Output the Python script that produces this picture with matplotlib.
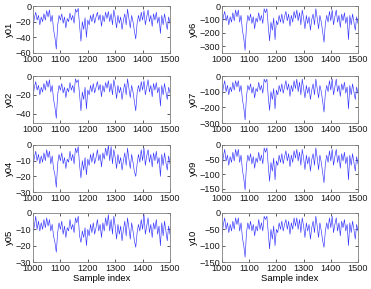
import numpy as np
import matplotlib
matplotlib.use("Agg")
import matplotlib.pyplot as plt

plt.rcParams['font.family'] = ['Liberation Sans', 'DejaVu Sans']

x_start, x_end = 1000, 1500
xticks = [1000, 1100, 1200, 1300, 1400, 1500]

y01 = [-28,-15,-8,-18,-12,-24,-14,-20,-10,-18,
       -6,-14,-5,-20,-12,-30,-40,-55,-25,-12,
       -18,-10,-22,-14,-28,-16,-20,-9,-18,-12,
       -22,-4,-8,-3,-25,-45,-20,-30,-15,-40,
       -18,-24,-12,-20,-10,-22,-14,-8,-18,-11,
       -26,-12,-20,-8,-16,-7,-20,-10,-24,-5,
       -15,-28,-12,-22,-14,-30,-18,-10,-24,-4,
       -16,-28,-12,-20,-32,-42,-22,-12,-20,-8,
       -18,-6,-24,-14,-5,-20,-12,-26,-10,-18,
       -8,-22,-14,-35,-12,-24,-10,-20,-30,-14,
       -22]
y02 = [-22,-12,-6,-15,-10,-20,-12,-17,-8,-15,
       -5,-12,-4,-17,-10,-25,-33,-45,-20,-10,
       -15,-8,-18,-12,-23,-13,-17,-7,-15,-10,
       -18,-3,-7,-4,-20,-37,-17,-25,-12,-35,
       -15,-20,-10,-17,-8,-18,-12,-6,-15,-9,
       -22,-10,-17,-7,-13,-5,-17,-8,-20,-4,
       -12,-24,-10,-18,-12,-25,-15,-8,-20,-3,
       -13,-23,-10,-17,-27,-37,-18,-10,-17,-6,
       -15,-5,-20,-12,-4,-17,-10,-22,-8,-15,
       -7,-18,-12,-32,-10,-20,-8,-17,-25,-12,
       -18]
y04 = [-14,-8,-4,-10,-6,-12,-7,-11,-5,-10,
       -3,-8,-4,-12,-7,-15,-19,-27,-12,-6,
       -10,-5,-12,-8,-15,-9,-11,-4,-10,-6,
       -12,-2,-5,-1,-13,-21,-10,-16,-8,-19,
       -9,-13,-6,-11,-5,-12,-8,-3,-10,-6,
       -14,-5,-9,-2,-7,0,-10,-1,-12,-3,
       -8,-15,-6,-12,-8,-16,-10,-5,-13,-2,
       -9,-15,-6,-11,-17,-20,-12,-6,-11,-3,
       -10,-2,-13,-7,-3,-11,-6,-14,-5,-10,
       -4,-12,-8,-20,-6,-13,-5,-11,-16,-7,
       -12]
y05 = [-12,-8,-2,-10,-5,-11,-6,-10,-4,-9,
       -3,-8,-4,-11,-7,-14,-18,-24,-12,-6,
       -10,-5,-13,-8,-15,-9,-11,-4,-10,-7,
       -12,-3,-6,-2,-14,-18,-11,-15,-9,-20,
       -10,-14,-7,-12,-6,-13,-9,-4,-11,-7,
       -15,-6,-11,-3,-8,-1,-11,-4,-13,-2,
       -8,-16,-7,-13,-8,-17,-10,-5,-14,-3,
       -9,-16,-6,-11,-17,-21,-12,-7,-11,-4,
       -10,-1,-13,-8,-3,-12,-7,-15,-6,-10,
       -4,-13,-8,-20,-6,-14,-5,-11,-17,-8,
       -13]
y06 = [-160,-80,-40,-110,-70,-140,-80,-120,-50,-110,
       -30,-80,-30,-120,-70,-180,-240,-330,-150,-70,
       -110,-60,-130,-80,-170,-90,-120,-50,-110,-70,
       -130,-20,-50,-20,-150,-260,-120,-180,-90,-250,
       -110,-140,-70,-120,-60,-130,-80,-40,-110,-60,
       -150,-70,-120,-40,-90,-30,-110,-50,-140,-30,
       -90,-170,-70,-130,-80,-180,-100,-60,-140,-20,
       -90,-170,-70,-120,-190,-270,-130,-70,-120,-40,
       -110,-30,-140,-80,-30,-120,-70,-160,-60,-110,
       -50,-130,-80,-250,-70,-140,-60,-120,-180,-80,
       -130]
y07 = [-140,-70,-30,-100,-60,-120,-70,-100,-40,-90,
       -30,-70,-30,-100,-60,-150,-200,-280,-130,-60,
       -90,-50,-110,-70,-140,-80,-100,-40,-90,-60,
       -110,-20,-40,-20,-130,-220,-100,-150,-80,-210,
       -90,-120,-60,-100,-50,-110,-70,-30,-90,-50,
       -130,-60,-100,-30,-80,-20,-100,-40,-120,-20,
       -80,-140,-60,-110,-70,-150,-90,-50,-120,-20,
       -80,-140,-60,-100,-160,-230,-110,-60,-100,-30,
       -90,-20,-120,-70,-20,-100,-60,-130,-50,-90,
       -40,-110,-70,-210,-60,-120,-50,-100,-150,-70,
       -110]
y09 = [-80,-40,-15,-55,-35,-70,-40,-60,-25,-55,
       -15,-40,-15,-60,-35,-85,-115,-155,-70,-35,
       -55,-30,-65,-40,-80,-45,-60,-25,-55,-35,
       -65,-10,-25,-10,-70,-125,-60,-90,-45,-120,
       -55,-70,-35,-60,-30,-65,-40,-20,-55,-30,
       -75,-35,-60,-20,-45,-15,-55,-25,-70,-15,
       -45,-85,-35,-65,-40,-90,-50,-30,-70,-10,
       -45,-85,-35,-60,-95,-130,-65,-35,-60,-20,
       -55,-15,-70,-40,-15,-60,-35,-80,-30,-55,
       -25,-65,-40,-120,-35,-70,-30,-60,-90,-40,
       -65]
y10 = [-70,-35,-15,-50,-30,-60,-35,-55,-25,-50,
       -15,-35,-15,-55,-30,-75,-100,-135,-60,-30,
       -50,-25,-55,-35,-70,-40,-55,-20,-50,-30,
       -55,-10,-20,-10,-60,-110,-50,-80,-40,-100,
       -50,-60,-30,-50,-25,-55,-35,-20,-50,-25,
       -65,-30,-50,-15,-40,-15,-50,-20,-60,-15,
       -40,-75,-30,-55,-35,-80,-45,-25,-60,-10,
       -40,-75,-30,-55,-85,-105,-55,-30,-50,-15,
       -45,-10,-60,-35,-15,-55,-30,-70,-25,-45,
       -20,-55,-35,-100,-30,-60,-25,-50,-80,-35,
       -55]

panels = [
    ("y01", y01, (-60, 0), [0, -20, -40, -60]),
    ("y02", y02, (-50, 0), [0, -20, -40]),
    ("y04", y04, (-30, 0), [0, -10, -20, -30]),
    ("y05", y05, (-30, 0), [0, -10, -20, -30]),
    ("y06", y06, (-350, 0), [0, -100, -200, -300]),
    ("y07", y07, (-300, 0), [0, -100, -200, -300]),
    ("y09", y09, (-162, 0), [0, -50, -100, -150]),
    ("y10", y10, (-150, 0), [0, -50, -100, -150]),
]

W, H = 371, 289
fig = plt.figure(figsize=(W / 100, H / 100), dpi=100)
lefts = [33, 222]
widths = [137, 136]
rows = [(6, 53), (76, 123), (145, 192), (213, 262)]

for k, (name, vals, ylim, yt) in enumerate(panels):
    col = k // 4
    row = k % 4
    top, bot = rows[row]
    ax = fig.add_axes([lefts[col] / W, 1 - bot / H, widths[col] / W, (bot - top) / H])
    xs = np.linspace(x_start, x_end, len(vals))
    ax.plot(xs, vals, color=(0.2, 0.2, 1.0), lw=0.45)
    ax.set_xlim(x_start, x_end)
    ax.set_ylim(*ylim)
    ax.set_xticks(xticks)
    ax.set_yticks(yt)
    ax.tick_params(direction='in', length=2, width=0.5, labelsize=6.6, pad=1.2,
                   top=True, right=True, colors='0.1')
    for s in ax.spines.values():
        s.set_linewidth(0.6)
        s.set_color('0.5')
    ax.set_ylabel(name, fontsize=6.8, labelpad=1.5)
    if row == 3:
        ax.set_xlabel("Sample index", fontsize=6.8, labelpad=1.2)

fig.savefig("out.png", dpi=100)
